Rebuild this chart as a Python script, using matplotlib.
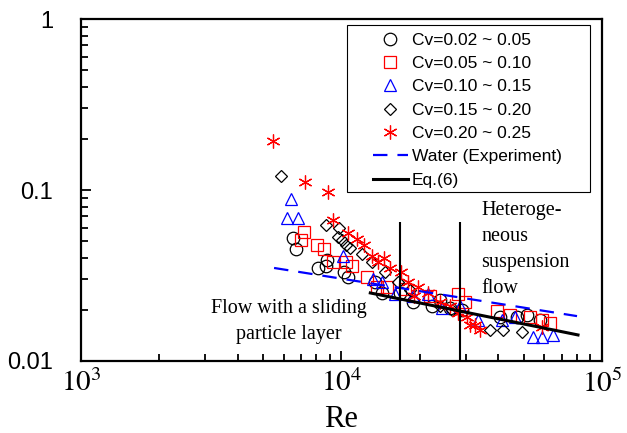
import numpy as np
import matplotlib
matplotlib.use("Agg")
import matplotlib.pyplot as plt
from matplotlib.patches import Rectangle
from matplotlib.ticker import LogLocator, NullFormatter

plt.rcParams['font.family'] = ['Liberation Sans', 'DejaVu Sans']
plt.rcParams['mathtext.fontset'] = 'stix'

# Cv = 0.02 ~ 0.05
re1 = [6510, 6700, 8100, 8700, 8800, 10200, 10600, 13400, 14300, 16780, 18800, 22300, 23900, 26100, 29000, 40600, 47000, 51500, 57800]
f1 = [0.0525, 0.045, 0.035, 0.036, 0.039, 0.033, 0.031, 0.029, 0.025, 0.025, 0.022, 0.021, 0.0227, 0.0205, 0.0199, 0.018, 0.018, 0.0185, 0.0174]
# Cv = 0.05 ~ 0.10
re2 = [6990, 7160, 8040, 8590, 9250, 10400, 10950, 12500, 13700, 14900, 17500, 21900, 27900, 29800, 39500, 44400, 52900, 59000, 63000]
f2 = [0.051, 0.057, 0.048, 0.045, 0.038, 0.038, 0.036, 0.031, 0.027, 0.027, 0.0265, 0.024, 0.0245, 0.022, 0.0195, 0.0185, 0.018, 0.0174, 0.0166]
# Cv = 0.10 ~ 0.15
re3 = [6400, 6170, 6800, 10150, 13200, 14300, 16100, 18800, 21500, 24300, 28500, 33400, 41500, 46200, 54500, 59000, 64600]
f3 = [0.089, 0.069, 0.069, 0.041, 0.030, 0.029, 0.0245, 0.024, 0.0245, 0.0205, 0.021, 0.0174, 0.0174, 0.0182, 0.0138, 0.0138, 0.0142]
# Cv = 0.15 ~ 0.20
re4 = [5880, 8700, 9800, 9700, 10050, 10450, 10800, 12000, 13100, 14700, 16500, 18300, 23900, 26500, 37200, 41800, 49300]
f4 = [0.121, 0.062, 0.060, 0.053, 0.051, 0.048, 0.046, 0.042, 0.038, 0.033, 0.029, 0.026, 0.021, 0.020, 0.0152, 0.0152, 0.0148]
# Cv = 0.20 ~ 0.25
re5 = [5450, 7250, 8850, 9300, 10600, 11500, 12200, 13150, 13800, 14600, 15400, 16950, 18000, 19000, 19700, 21500, 23900, 26100, 28000, 30400, 31150, 32600, 34000, 59000]
f5 = [0.193, 0.111, 0.098, 0.067, 0.056, 0.052, 0.048, 0.041, 0.038, 0.040, 0.035, 0.033, 0.029, 0.024, 0.027, 0.025, 0.022, 0.021, 0.019, 0.018, 0.0163, 0.0163, 0.0152, 0.0158]

re_water = [5510, 80200]
f_water = [0.035, 0.0183]
re_eq6 = [12900, 80900]
f_eq6 = [0.025, 0.0142]
re_bounds = [16800, 28500]

fig = plt.figure(figsize=(6.27, 4.33), dpi=100)
ax = fig.add_axes([0.1292, 0.1663, 0.8309, 0.7898])

ms = dict(linestyle='none', markerfacecolor='none', markeredgewidth=0.9)
ax.plot(re1, f1, marker='o', color='black', markersize=9, label='Cv=0.02 ~ 0.05', **ms)
ax.plot(re2, f2, marker='s', color='red', markersize=8.5, label='Cv=0.05 ~ 0.10', **ms)
ax.plot(re3, f3, marker='^', color='blue', markersize=8, label='Cv=0.10 ~ 0.15', **ms)
ax.plot(re4, f4, marker='D', color='black', markersize=6.5, label='Cv=0.15 ~ 0.20', **ms)
ax.plot(re5, f5, marker=(6, 2, 0), color='red', markersize=10, label='Cv=0.20 ~ 0.25', **ms)
ax.plot(re_water, f_water, color='blue', lw=1.6, dashes=(6.5, 4.5), label='Water (Experiment)')
ax.plot(re_eq6, f_eq6, color='black', lw=2.2, label='Eq.(6)')

ax.vlines(re_bounds, 0.01, 0.065, color='black', lw=1.5)

ax.set_xscale('log')
ax.set_yscale('log')
ax.set_xlim(1e3, 1e5)
ax.set_ylim(0.01, 1)

ax.set_yticks([0.01, 0.1, 1])
ax.set_yticklabels(['0.01', '0.1', '1'], fontsize=17)
ax.set_xticks([1e3, 1e4, 1e5])
ax.set_xticklabels([r'$10^{3}$', r'$10^{4}$', r'$10^{5}$'], fontsize=21)
ax.xaxis.set_minor_locator(LogLocator(base=10, subs=np.arange(2, 10)))
ax.yaxis.set_minor_locator(LogLocator(base=10, subs=np.arange(2, 10)))
ax.xaxis.set_minor_formatter(NullFormatter())
ax.yaxis.set_minor_formatter(NullFormatter())
ax.tick_params(which='both', direction='in', top=False, right=False, width=1.3)
ax.tick_params(which='major', length=7)
ax.tick_params(which='minor', length=5)
ax.tick_params(axis='y', which='major', pad=20)
ax.tick_params(axis='x', which='major', pad=6)
for s in ax.spines.values():
    s.set_linewidth(1.6)

ax.set_xlabel('Re', fontsize=22, family='Liberation Serif', labelpad=5)

ax.text(0.399, 0.115, 'Flow with a sliding\nparticle layer', transform=ax.transAxes,
        ha='center', va='center', fontsize=14.5, family='Liberation Serif', linespacing=1.5)
ax.text(0.768, 0.326, 'Heteroge-\nneous\nsuspension\nflow', transform=ax.transAxes,
        ha='left', va='center', fontsize=14.5, family='Liberation Serif', linespacing=1.5)

# legend box drawn separately (wide left margin like the original)
ax.add_patch(Rectangle((0.5106, 0.4942), 0.4664, 0.4883, transform=ax.transAxes,
                       facecolor='white', edgecolor='black', lw=0.8, zorder=4))
leg = ax.legend(loc='upper left', bbox_to_anchor=(0.5605, 0.960), fontsize=12.5,
                frameon=False, handlelength=2.0, labelspacing=0.47, borderpad=0,
                handletextpad=0.25, borderaxespad=0)
leg.set_zorder(5)

fig.savefig('out.png', dpi=100)
